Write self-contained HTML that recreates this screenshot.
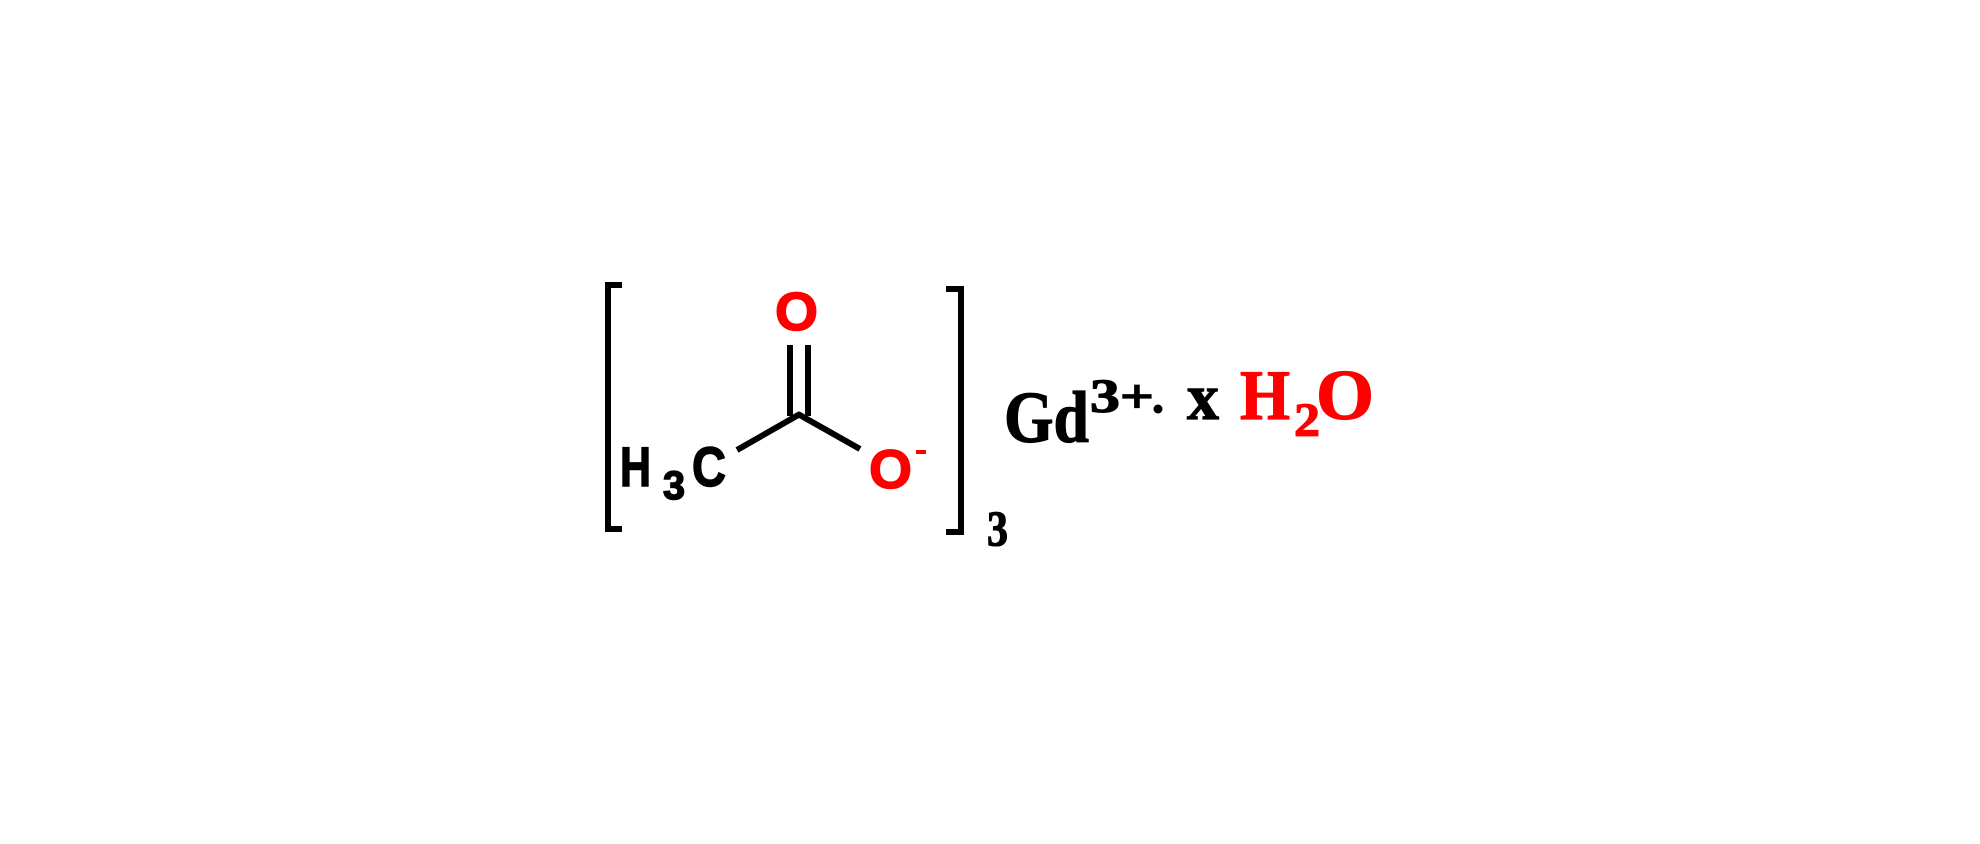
<!DOCTYPE html>
<html><head><style>html,body{margin:0;padding:0;background:#fff}svg{display:block}</style></head>
<body>
<svg width="1980" height="844" viewBox="0 0 1980 844" xmlns="http://www.w3.org/2000/svg">
<g stroke="#000" stroke-width="6" fill="none">
<polyline points="622,285 608,285 608,529 622,529"/>
<polyline points="946,289 961,289 961,532 946,532"/>
<line x1="790" y1="345" x2="790" y2="416"/>
<line x1="808" y1="345" x2="808" y2="416"/>
<line x1="800" y1="414" x2="737" y2="450"/>
<line x1="798" y1="414" x2="860" y2="449"/>
</g>
<g font-family="Liberation Sans, sans-serif" font-weight="bold" stroke-width="1.5">
<text x="775" y="330" font-size="54" fill="#f00" stroke="#f00" textLength="43" lengthAdjust="spacingAndGlyphs">O</text>
<text x="620" y="486" font-size="56" fill="#000" stroke="#000" textLength="31" lengthAdjust="spacingAndGlyphs">H</text>
<text x="663" y="499" font-size="40" fill="#000" stroke="#000" textLength="22" lengthAdjust="spacingAndGlyphs">3</text>
<text x="692" y="486" font-size="56" fill="#000" stroke="#000" textLength="34" lengthAdjust="spacingAndGlyphs">C</text>
<text x="869" y="488" font-size="55" fill="#f00" stroke="#f00" textLength="43" lengthAdjust="spacingAndGlyphs">O</text>
<rect x="916" y="450" width="10" height="4" fill="#f00"/>
</g>
<g font-family="Liberation Serif, serif" font-weight="bold" stroke-width="1.2">
<text x="987" y="545" font-size="50" fill="#000" stroke="#000" textLength="21" lengthAdjust="spacingAndGlyphs">3</text>
<text x="1004" y="442" font-size="73" fill="#000" stroke="#000" textLength="85" lengthAdjust="spacingAndGlyphs">Gd</text>
<text x="1090" y="412" font-size="48" fill="#000" stroke="#000" textLength="64" lengthAdjust="spacingAndGlyphs">3+</text>
<circle cx="1158" cy="409" r="4.5" fill="#000"/>
<text x="1187" y="419" font-size="66" fill="#000" stroke="#000" textLength="32" lengthAdjust="spacingAndGlyphs">x</text>
<text x="1240" y="419" font-size="71" fill="#f00" stroke="#f00" textLength="50" lengthAdjust="spacingAndGlyphs">H</text>
<text x="1294" y="436" font-size="48" fill="#f00" stroke="#f00" textLength="26" lengthAdjust="spacingAndGlyphs">2</text>
<text x="1316" y="419" font-size="71" fill="#f00" stroke="#f00" textLength="58" lengthAdjust="spacingAndGlyphs">O</text>
</g>
</svg>
</body></html>
